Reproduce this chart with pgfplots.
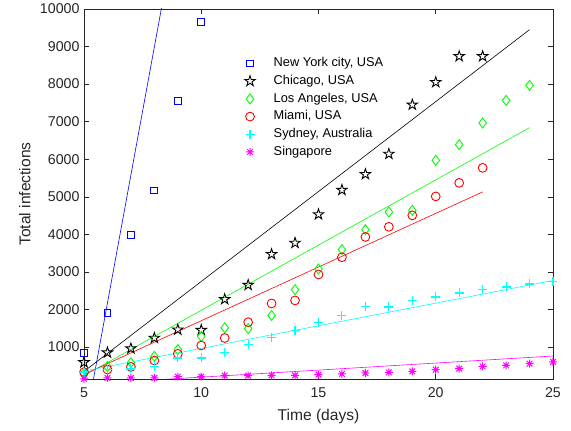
\documentclass[border=0pt]{standalone}
\usepackage{pgfplots}
\pgfplotsset{compat=1.18}
\usepackage{fontspec}
\setmainfont{Liberation Sans}
\definecolor{axgray}{gray}{0.15}
\definecolor{mblue}{rgb}{0,0,1}
\definecolor{mgreen}{rgb}{0,1,0}
\definecolor{mred}{rgb}{1,0,0}
\definecolor{mcyan}{rgb}{0,1,1}
\definecolor{mmagenta}{rgb}{1,0,1}
\pgfdeclareplotmark{pentagram}{%
  \pgfpathmoveto{\pgfqpointpolar{90}{\pgfplotmarksize}}%
  \pgfpathlineto{\pgfqpointpolar{126}{0.382\pgfplotmarksize}}%
  \pgfpathlineto{\pgfqpointpolar{162}{\pgfplotmarksize}}%
  \pgfpathlineto{\pgfqpointpolar{198}{0.382\pgfplotmarksize}}%
  \pgfpathlineto{\pgfqpointpolar{234}{\pgfplotmarksize}}%
  \pgfpathlineto{\pgfqpointpolar{270}{0.382\pgfplotmarksize}}%
  \pgfpathlineto{\pgfqpointpolar{306}{\pgfplotmarksize}}%
  \pgfpathlineto{\pgfqpointpolar{342}{0.382\pgfplotmarksize}}%
  \pgfpathlineto{\pgfqpointpolar{18}{\pgfplotmarksize}}%
  \pgfpathlineto{\pgfqpointpolar{54}{0.382\pgfplotmarksize}}%
  \pgfpathclose
  \pgfusepathqstroke}
\pgfdeclareplotmark{mstar}{%
  \pgfpathmoveto{\pgfqpoint{-\pgfplotmarksize}{0pt}}\pgfpathlineto{\pgfqpoint{\pgfplotmarksize}{0pt}}%
  \pgfpathmoveto{\pgfqpoint{0pt}{-\pgfplotmarksize}}\pgfpathlineto{\pgfqpoint{0pt}{\pgfplotmarksize}}%
  \pgfpathmoveto{\pgfqpoint{-.707\pgfplotmarksize}{-.707\pgfplotmarksize}}\pgfpathlineto{\pgfqpoint{.707\pgfplotmarksize}{.707\pgfplotmarksize}}%
  \pgfpathmoveto{\pgfqpoint{-.707\pgfplotmarksize}{.707\pgfplotmarksize}}\pgfpathlineto{\pgfqpoint{.707\pgfplotmarksize}{-.707\pgfplotmarksize}}%
  \pgfusepathqstroke}
\begin{document}
\begin{tikzpicture}
\path[use as bounding box] (-84pt,-52pt) rectangle (487pt,379pt);
\begin{axis}[
  scale only axis, width=469pt, height=370pt,
  xmin=5, xmax=25, ymin=148, ymax=10000,
  xtick={5,10,...,25}, ytick={1000,2000,...,10000},
  scaled y ticks=false,
  /pgf/number format/1000 sep={},
  /pgf/number format/assume math mode=true,
  tick align=inside, tick pos=both, major tick length=5pt,
  axis line style={axgray, line width=0.5pt},
  tick style={axgray, line width=0.5pt},
  tick label style={font=\fontsize{14.2}{17}\selectfont, text=axgray},
  xticklabel style={yshift=-5pt},
  yticklabel style={xshift=-1pt},
  xlabel={Time (days)}, ylabel={Total infections},
  every axis x label/.style={at={(axis description cs:0.5,-0.102)}, anchor=center,
    font=\fontsize{15.6}{18}\selectfont, text=axgray},
  every axis y label/.style={at={(axis description cs:-0.126,0.5)}, anchor=center, rotate=90,
    font=\fontsize{15.6}{18}\selectfont, text=axgray},
  legend style={draw=none, fill=none, at={(axis description cs:0.336,0.878)}, anchor=north west,
    font=\fontsize{12.8}{15}\selectfont, row sep=3.4pt,
    nodes={inner sep=1pt, text height=9.5pt, text depth=2.8pt},
    /tikz/every odd column/.append style={column sep=17.5pt}},
  legend cell align=left,
]
\addplot[only marks, mblue, mark=square, mark size=3.4pt, line width=0.9pt] coordinates {
  (5,850) (6,1910) (7,3980) (8,5170) (9,7550) (10,9660)};
\addlegendentry{New York city, USA}
\addplot[only marks, black, mark=pentagram, mark size=5.5pt, line width=0.9pt] coordinates {
  (5,590) (6,850) (7,960) (8,1240) (9,1460) (10,1450) (11,2270) (12,2650) (13,3470)
  (14,3770) (15,4530) (16,5180) (17,5600) (18,6140) (19,7450) (20,8050) (21,8740) (22,8740)};
\addlegendentry{Chicago, USA}
\addplot[only marks, mgreen, mark=diamond, mark size=5pt, line width=0.9pt] coordinates {
  (5,300) (6,480) (7,580) (8,750) (9,930) (10,1280) (11,1510) (12,1490) (13,1840)
  (14,2527) (15,3078) (16,3592) (17,4124) (18,4595) (19,4638) (20,5970) (21,6387)
  (22,6965) (23,7567) (24,7966)};
\addlegendentry{Los Angeles, USA}
\addplot[only marks, mred, mark=o, mark size=4.4pt, line width=0.9pt] coordinates {
  (5,330) (6,400) (7,470) (8,640) (9,820) (10,1040) (11,1240) (12,1660) (13,2160)
  (14,2240) (15,2930) (16,3390) (17,3930) (18,4200) (19,4505) (20,5010) (21,5370) (22,5770)};
\addlegendentry{Miami, USA}
\addplot[only marks, mcyan, mark=+, mark size=4.5pt, line width=1.1pt] coordinates {
  (5,325) (6,400) (7,415) (8,484) (9,708) (10,708) (11,860) (12,1070) (13,1260)
  (14,1435) (15,1656) (16,1835) (17,2082) (18,2066) (19,2234) (20,2332) (21,2439)
  (22,2530) (23,2598) (24,2678) (25,2748)};
\addlegendentry{Sydney, Australia}
\addplot[only marks, mmagenta, mark=mstar, mark size=4pt, line width=1pt] coordinates {
  (5,150) (6,176) (7,176) (8,176) (9,210) (10,210) (11,240) (12,240) (13,245)
  (14,245) (15,263) (16,282) (17,309) (18,325) (19,351) (20,397) (21,424)
  (22,484) (23,511) (24,556) (25,602)};
\addlegendentry{Singapore}
\addplot[mblue, line width=0.6pt, forget plot] coordinates {(5,-1236) (10,15804)};
\addplot[black, line width=0.6pt, forget plot] coordinates {(5,350) (24,9450)};
\addplot[mgreen, line width=0.6pt, forget plot] coordinates {(5,240) (24,6840)};
\addplot[mred, line width=0.6pt, forget plot] coordinates {(5,270) (22,5130)};
\addplot[mcyan, line width=0.6pt, forget plot] coordinates {(5,360) (25,2770)};
\addplot[mmagenta, line width=0.6pt, forget plot] coordinates {(5,10) (25,760)};
\end{axis}
\end{tikzpicture}
\end{document}
